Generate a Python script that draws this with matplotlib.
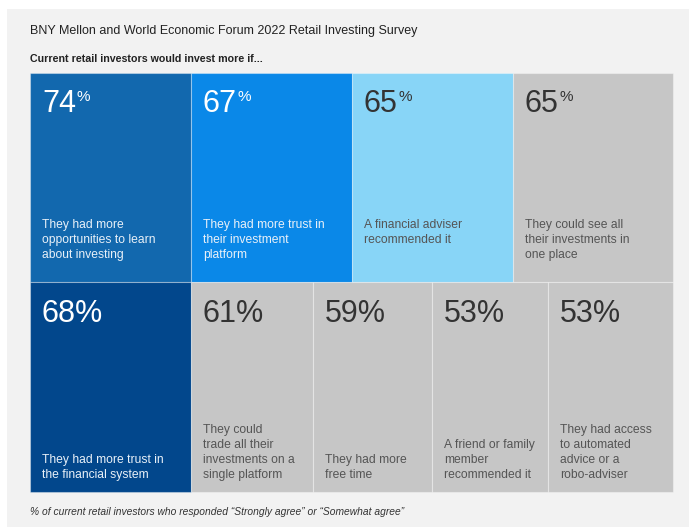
import matplotlib
matplotlib.use("Agg")
import matplotlib.pyplot as plt

plt.rcParams['font.family'] = ['Liberation Sans', 'DejaVu Sans']

# data
top_values = [74, 67, 65, 65]
top_labels = ["They had more\nopportunities to learn\nabout investing",
              "They had more trust in\ntheir investment\nplatform",
              "A financial adviser\nrecommended it",
              "They could see all\ntheir investments in\none place"]
bottom_values = [68, 61, 59, 53, 53]
bottom_labels = ["They had more trust in\nthe financial system",
                 "They could\ntrade all their\ninvestments on a\nsingle platform",
                 "They had more\nfree time",
                 "A friend or family\nmember\nrecommended it",
                 "They had access\nto automated\nadvice or a\nrobo-adviser"]

# layout (pixels)
top_edges = [30, 191, 352, 513, 673]
bottom_edges = [30, 191, 313, 432, 548, 673]
row_top = (73, 282)
row_bottom = (282, 492)

top_colors = ["#1268ae", "#0a88e8", "#88d5f7", "#c6c6c6"]
bottom_colors = ["#02478c", "#c6c6c6", "#c6c6c6", "#c6c6c6", "#c6c6c6"]
top_dark = [True, True, False, False]
bottom_dark = [True, False, False, False, False]

fig = plt.figure(figsize=(6.91, 5.27), dpi=100)
fig.patch.set_facecolor("white")
ax = fig.add_axes([0, 0, 1, 1])
ax.set_xlim(0, 691)
ax.set_ylim(527, 0)
ax.axis("off")

# panel background
ax.bar(7, 527 - 9, width=682, bottom=9, align="edge", color="#f2f2f2", zorder=0)

ax.text(30, 31, "BNY Mellon and World Economic Forum 2022 Retail Investing Survey",
        fontsize=9, color="#222222", va="center")
ax.text(30, 59, "Current retail investors would invest more if...",
        fontsize=7.7, color="#222222", fontweight="semibold", va="center")


def draw_row(edges, values, labels, colors, dark, y0, y1, small_pct, label_top):
    lefts = edges[:-1]
    widths = [b - a for a, b in zip(edges[:-1], edges[1:])]
    ax.bar(lefts, [y1 - y0] * len(lefts), width=widths, bottom=y0, align="edge",
           color=colors, edgecolor=(1, 1, 1, 0.35), linewidth=0.8, zorder=1)
    for x, v, lab, d in zip(lefts, values, labels, dark):
        num_c = "white" if d else "#333333"
        lab_c = "#e8f0f8" if d else "#555555"
        if small_pct:
            t = ax.text(x + 12, y0 + 39, str(v), fontsize=22, color=num_c,
                        va="baseline", ha="left", zorder=2)
            fig.canvas.draw()
            bb = t.get_window_extent()
            inv = ax.transData.inverted()
            xe = inv.transform((bb.x1, bb.y1))[0]
            ax.text(xe + 1, y0 + 17, "%", fontsize=11, color=num_c,
                    va="top", ha="left", zorder=2)
        else:
            ax.text(x + 12, y0 + 40, f"{v}%", fontsize=22, color=num_c,
                    va="baseline", ha="left", zorder=2)
        if label_top:
            ax.text(x + 12, y0 + 146, lab, fontsize=8.7, color=lab_c,
                    va="top", ha="left", linespacing=1.32, zorder=2)
        else:
            ax.text(x + 12, y1 - 14, lab, fontsize=8.7, color=lab_c,
                    va="baseline", ha="left", linespacing=1.32, zorder=2)


draw_row(top_edges, top_values, top_labels, top_colors, top_dark,
         row_top[0], row_top[1], True, True)
draw_row(bottom_edges, bottom_values, bottom_labels, bottom_colors, bottom_dark,
         row_bottom[0], row_bottom[1], False, False)

ax.text(30, 512, "% of current retail investors who responded \u201cStrongly agree\u201d or \u201cSomewhat agree\u201d",
        fontsize=7.4, color="#333333", style="italic", va="center")

fig.savefig("out.png", dpi=100, facecolor=fig.get_facecolor())
